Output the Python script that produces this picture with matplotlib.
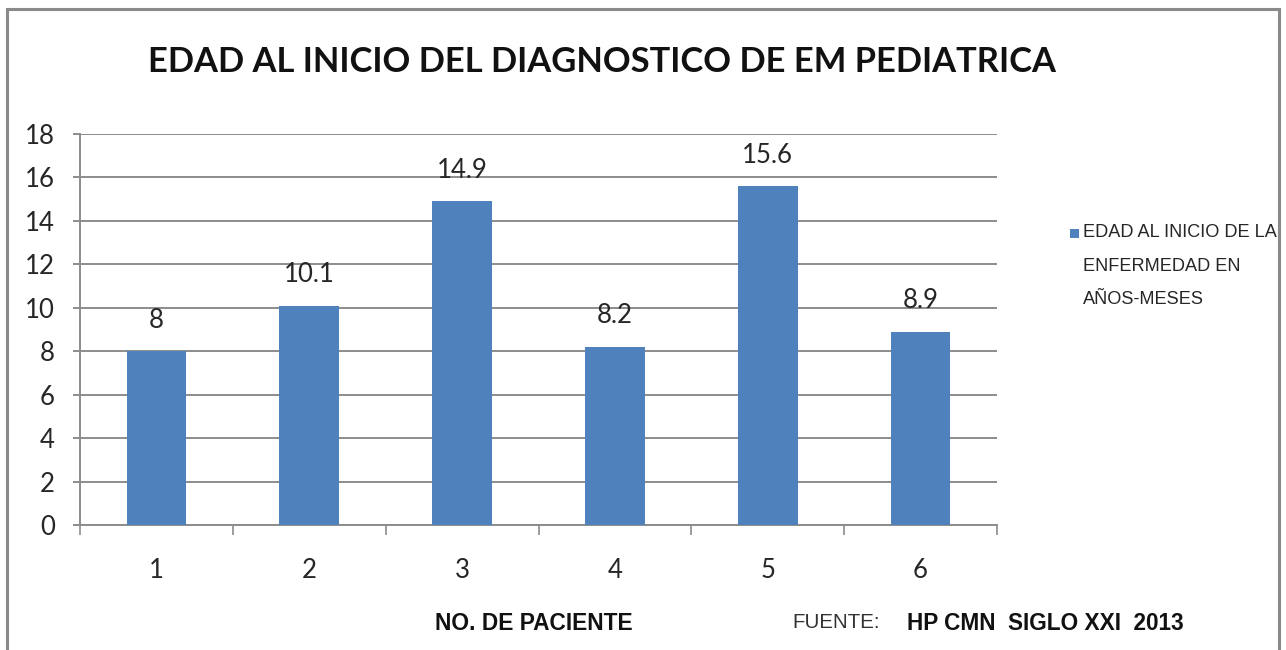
import matplotlib
matplotlib.use("Agg")
import matplotlib.pyplot as plt
from matplotlib.patches import Rectangle

# ---- data ----
categories = ["1", "2", "3", "4", "5", "6"]
values = [8, 10.1, 14.9, 8.2, 15.6, 8.9]
value_labels = ["8", "10.1", "14.9", "8.2", "15.6", "8.9"]
y_ticks = [0, 2, 4, 6, 8, 10, 12, 14, 16, 18]
title = "EDAD AL INICIO DEL DIAGNOSTICO DE EM PEDIATRICA"
legend_lines = ["EDAD AL INICIO DE LA", "ENFERMEDAD EN", "AÑOS-MESES"]
xlabel = "NO. DE PACIENTE"
source_prefix = "FUENTE:"
source_text = "HP CMN  SIGLO XXI  2013"

W, H = 1286, 650
DPI = 100
BAR_COLOR = "#4F81BD"
GRID_COLOR = "#8C8C8C"
TEXT_COLOR = "#262626"
NARROW = ["Liberation Sans Narrow", "Liberation Sans", "DejaVu Sans"]

plt.rcParams["font.family"] = ["Lato", "DejaVu Sans"]

fig = plt.figure(figsize=(W / DPI, H / DPI), dpi=DPI)
fig.patch.set_facecolor("white")

def fx(px):
    return px / W

def fy(py):
    return 1 - py / H

# outer border
fig.patches.append(Rectangle((fx(7), fy(700)), fx(1279) - fx(7), fy(9) - fy(700),
                             transform=fig.transFigure, fill=False,
                             edgecolor="#8A8A8A", linewidth=2.2, zorder=0))

ax = fig.add_axes([fx(80), fy(525), fx(997) - fx(80), fy(134) - fy(525)])
x = list(range(1, len(categories) + 1))
bars = ax.bar(x, values, width=0.39, color=BAR_COLOR, zorder=3)

ax.set_xlim(0.5, len(categories) + 0.5)
ax.set_ylim(0, 18)
ax.set_yticks(y_ticks)
ax.set_yticklabels([str(t) for t in y_ticks])
ax.yaxis.grid(True, color=GRID_COLOR, linewidth=1.4, zorder=0)
ax.set_axisbelow(True)

# category boundaries as major ticks, labels at centers as minor ticks
ax.set_xticks([i + 0.5 for i in range(0, len(categories) + 1)])
ax.set_xticklabels([])
ax.set_xticks(x, minor=True)
ax.set_xticklabels(categories, minor=True)
ax.tick_params(axis="x", which="major", length=7, width=1.2, color=GRID_COLOR, direction="out")
ax.tick_params(axis="x", which="minor", length=0, pad=24, labelsize=18.5, labelcolor=TEXT_COLOR)
ax.tick_params(axis="y", length=5, width=1.4, color=GRID_COLOR, pad=13,
               labelsize=18.5, labelcolor=TEXT_COLOR)

for s in ["top", "right"]:
    ax.spines[s].set_visible(False)
for s in ["left", "bottom"]:
    ax.spines[s].set_color(GRID_COLOR)
    ax.spines[s].set_linewidth(1.4)

for b, lab in zip(bars, value_labels):
    ax.annotate(lab, (b.get_x() + b.get_width() / 2, b.get_height()),
                xytext=(0, 17), textcoords="offset points",
                ha="center", va="baseline", fontsize=18.5, color=TEXT_COLOR)

fig.canvas.draw()
renderer = fig.canvas.get_renderer()

def fit(t, target_px):
    bb = t.get_window_extent(renderer)
    t.set_fontsize(t.get_fontsize() * target_px / bb.width)

# title
t_title = fig.text(fx(602), fy(62), title, ha="center", va="center",
                   fontsize=30, fontweight="bold", color="#111111")
fit(t_title, 909)

# legend (manual: marker aligned to first line)
fig.patches.append(Rectangle((fx(1070), fy(238)), fx(9), 9 / H,
                             transform=fig.transFigure, facecolor=BAR_COLOR,
                             edgecolor="none"))
leg_texts = []
for i, line in enumerate(legend_lines):
    t = fig.text(fx(1083), fy(233 + 33 * i), line, ha="left", va="center",
                 fontsize=14, color=TEXT_COLOR, family=NARROW)
    leg_texts.append(t)
fig.canvas.draw()
bb0 = leg_texts[0].get_window_extent(renderer)
scale = 194 / bb0.width
for t in leg_texts:
    t.set_fontsize(t.get_fontsize() * scale)

# footer
t_xl = fig.text(fx(534), fy(623), xlabel, ha="center", va="center",
                fontsize=14, fontweight="bold", family=NARROW, color="#111111")
t_src1 = fig.text(fx(792), fy(623), source_prefix, ha="left", va="center",
                  fontsize=14, family=NARROW, color="#333333")
t_src2 = fig.text(fx(907), fy(623), source_text, ha="left", va="center",
                  fontsize=14, fontweight="bold", family=NARROW, color="#111111")
fig.canvas.draw()
fit(t_xl, 198)
fit(t_src1, 88)
fit(t_src2, 277)

fig.savefig("out.png", dpi=DPI, facecolor="white")
